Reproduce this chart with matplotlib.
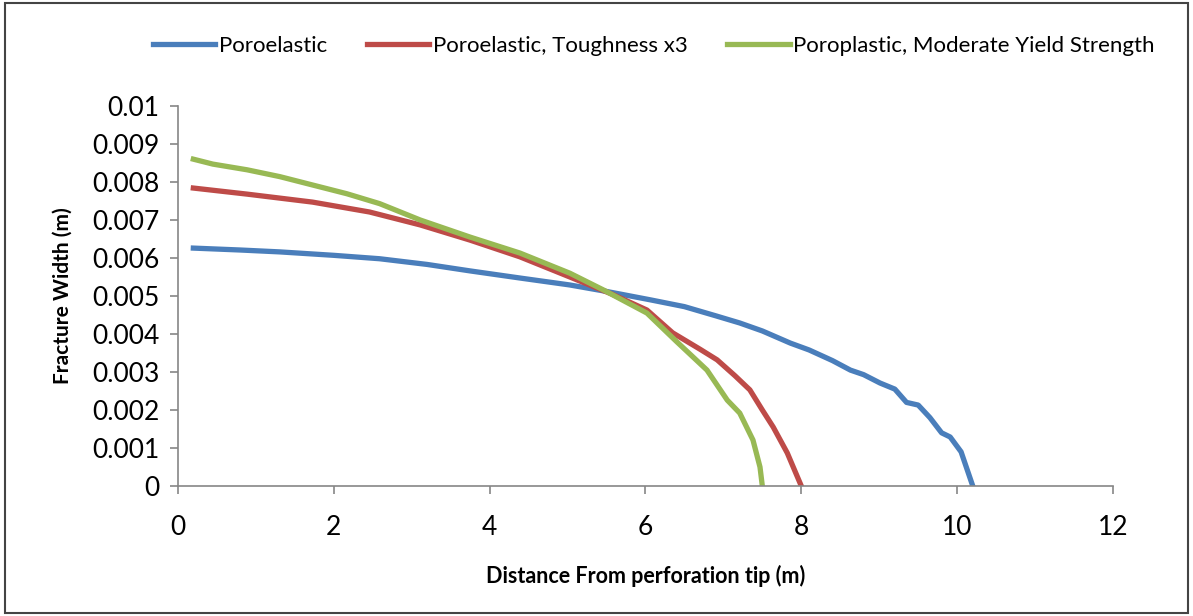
import matplotlib
matplotlib.use("Agg")
import matplotlib.pyplot as plt
from matplotlib.patches import Rectangle

# fracture width profiles along the fracture (m)
x_poroelastic = [0.2, 0.8, 1.31, 2.0, 2.59, 3.2, 3.75, 4.4, 5.03, 5.5, 6.06, 6.5, 6.9,
                 7.21, 7.5, 7.86, 8.1, 8.4, 8.63, 8.8, 9.01, 9.2, 9.35, 9.5, 9.65,
                 9.8, 9.91, 10.05, 10.2]
w_poroelastic = [0.00626, 0.00621, 0.00616, 0.00607, 0.00598, 0.00583, 0.00566, 0.00547,
                 0.00529, 0.00512, 0.0049, 0.00472, 0.00448, 0.00429, 0.00408, 0.00376,
                 0.00358, 0.0033, 0.00305, 0.00293, 0.00271, 0.00255, 0.0022, 0.00213,
                 0.0018, 0.0014, 0.00129, 0.0009, 0.0]

x_toughness = [0.2, 0.89, 1.73, 2.46, 3.11, 3.75, 4.39, 5.03, 5.57, 6.02, 6.35, 6.7,
               6.92, 7.15, 7.34, 7.5, 7.64, 7.82, 8.0]
w_toughness = [0.00784, 0.00768, 0.00747, 0.00721, 0.00687, 0.00647, 0.00603, 0.0055,
               0.00505, 0.00463, 0.00403, 0.0036, 0.00332, 0.0029, 0.00253, 0.002,
               0.00155, 0.00087, 0.0]

x_plastic = [0.2, 0.45, 0.89, 1.31, 1.73, 2.17, 2.59, 3.11, 3.75, 4.39, 5.03, 5.46,
             6.02, 6.4, 6.79, 7.05, 7.21, 7.38, 7.47, 7.5]
w_plastic = [0.0086, 0.00847, 0.00832, 0.00814, 0.00792, 0.00769, 0.00743, 0.007,
             0.00655, 0.00613, 0.0056, 0.00516, 0.00455, 0.0038, 0.00305, 0.00226,
             0.00192, 0.00121, 0.0005, 0.0]

labels = ["Poroelastic", "Poroelastic, Toughness x3", "Poroplastic, Moderate Yield Strength"]
colors = ["#4a7ebb", "#be4b48", "#98b954"]

plt.rcParams["font.family"] = ["Lato", "DejaVu Sans"]

fig = plt.figure(figsize=(11.93, 6.16), dpi=100)
ax = fig.add_axes([0.149, 0.211, 0.784, 0.617])

ax.plot(x_poroelastic, w_poroelastic, color=colors[0], lw=3.8, label=labels[0],
        solid_joinstyle="round")
ax.plot(x_toughness, w_toughness, color=colors[1], lw=3.8, label=labels[1],
        solid_joinstyle="round")
ax.plot(x_plastic, w_plastic, color=colors[2], lw=3.8, label=labels[2],
        solid_joinstyle="round")

ax.set_xlim(0, 12)
ax.set_ylim(0, 0.01)
ax.set_xticks(range(0, 13, 2))
ax.set_yticks([i / 1000 for i in range(11)])
ax.set_yticklabels(["0"] + ["%g" % (i / 1000) for i in range(1, 11)])

for side in ["top", "right"]:
    ax.spines[side].set_visible(False)
for side in ["left", "bottom"]:
    ax.spines[side].set_color("#868686")
    ax.spines[side].set_linewidth(1.2)
ax.tick_params(axis="both", colors="#868686", labelcolor="black", labelsize=19,
               length=6, width=1.2)
ax.tick_params(axis="y", pad=7)
ax.tick_params(axis="x", pad=15)

ax.set_xlabel("Distance From perforation tip (m)", fontsize=15.5, fontweight="bold",
              labelpad=18)
ax.set_ylabel("Fracture Width (m)", fontsize=15, fontweight="bold", labelpad=14)

fig.legend(loc="center", bbox_to_anchor=(0.548, 0.925), ncol=3, frameon=False,
           fontsize=16, handlelength=2.8, handletextpad=0.15, columnspacing=1.8)

# outer frame
fig.patches.append(Rectangle((0.004, 0.005), 0.992, 0.99, transform=fig.transFigure,
                             fill=False, edgecolor="#444444", lw=1.5))

fig.savefig("out.png", dpi=100)
